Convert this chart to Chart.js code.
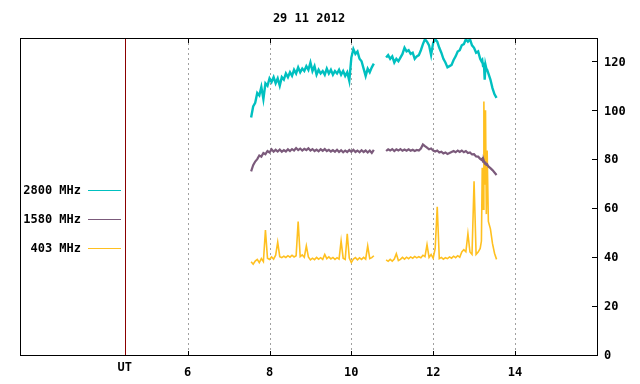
<!DOCTYPE html>
<html>
<head>
<meta charset="utf-8">
<script src="https://cdn.jsdelivr.net/npm/chart.js@4.4.1/dist/chart.umd.min.js"></script>
<style>
  html, body { margin: 0; padding: 0; background: #ffffff; }
  #wrap { width: 640px; height: 384px; }
</style>
</head>
<body>
<div id="wrap"><canvas id="radio" width="640" height="384"></canvas></div>
<script>
/* ── DATA ───────────────────────────────────────────────────────────────── */
const TITLE = "29 11 2012";
const UT_HOUR = 4.46;
const HOUR_TICKS = [6, 8, 10, 12, 14];
const FLUX_TICKS = [0, 20, 40, 60, 80, 100, 120];
const LABELS = ["2800 MHz", "1580 MHz", "403 MHz"];

// shared time base (UT hours); null values mark the data gap
const HOURS = [
  7.55, 7.60, 7.65, 7.70, 7.75, 7.80, 7.85, 7.90, 7.95, 8.00,
  8.05, 8.10, 8.15, 8.20, 8.25, 8.30, 8.35, 8.40, 8.45, 8.50,
  8.55, 8.60, 8.65, 8.70, 8.75, 8.80, 8.85, 8.90, 8.95, 9.00,
  9.05, 9.10, 9.15, 9.20, 9.25, 9.30, 9.35, 9.40, 9.45, 9.50,
  9.55, 9.60, 9.65, 9.70, 9.75, 9.80, 9.85, 9.90, 9.95, 10.00,
  10.05, 10.10, 10.15, 10.20, 10.25, 10.30, 10.35, 10.40, 10.45, 10.50,
  10.55,
  10.70,
  10.85, 10.90, 10.95, 11.00, 11.05, 11.10, 11.15, 11.20, 11.25, 11.30,
  11.35, 11.40, 11.45, 11.50, 11.55, 11.60, 11.65, 11.70, 11.75, 11.80,
  11.85, 11.90, 11.95, 12.00, 12.05, 12.10, 12.15, 12.20, 12.25, 12.30,
  12.35, 12.40, 12.45, 12.50, 12.55, 12.60, 12.65, 12.70, 12.75, 12.80,
  12.85, 12.90, 12.95, 13.00, 13.05, 13.10, 13.15, 13.18, 13.20, 13.22,
  13.24, 13.26, 13.28, 13.30, 13.32, 13.35, 13.40, 13.45, 13.50, 13.55,
];

const F2800 = [
  97.5, 102, 103.5, 107.5, 106.5, 110, 105, 111.5, 110.5, 113.5,
  112, 114, 111.5, 113.5, 110.5, 114, 113, 115.5, 114, 116,
  114.5, 117, 115.5, 118, 116, 117.5, 116.5, 118.5, 117, 120,
  116.5, 118.5, 115, 117, 115.5, 116.5, 115, 117.5, 115.5, 117,
  115, 116.5, 115.5, 117, 115, 116.5, 114.5, 116, 112.5, 122,
  125.5, 123.5, 124.5, 121.5, 120.5, 117.5, 114.5, 117.5, 116, 118,
  119.5,
  null,
  122, 123, 121.5, 122.5, 120, 121.5, 120.5, 122, 123.5, 126,
  124.5, 125, 123.5, 124, 121.5, 122.5, 123, 125, 127.5, 129.5,
  128.5, 127, 123, 128, 129.5, 128.5, 126, 124, 121.5, 120,
  118, 118.5, 119, 121, 122.5, 124.5, 125, 127, 127.5, 129.5,
  128.5, 129.5, 127, 126, 124, 124.5, 121.5, 120.5, 121, 118.5,
  120, 113, 119, 117.5, 117, 115.5, 113, 109.5, 107, 105.5,
];

const F1580 = [
  75.5, 78, 79.5, 80.5, 82, 81.5, 83, 82.5, 83.8, 83.2,
  84.5, 83.5, 84.3, 83.6, 84.4, 83.5, 84.2, 83.6, 84.5, 83.8,
  84.6, 84, 85, 84.2, 84.8, 84, 84.7, 84.2, 84.9, 84,
  84.6, 83.8, 84.4, 83.7, 84.5, 83.9, 84.6, 83.8, 84.3, 83.6,
  84.2, 83.5, 84.3, 83.4, 84.1, 83.3, 84, 83.4, 84.2, 83.5,
  84.3, 83.4, 84, 83.3, 84.1, 83.4, 84, 83.2, 84, 83,
  84.3,
  null,
  83.8, 84.5, 84, 84.6, 83.8, 84.5, 84, 84.6, 83.9, 84.4,
  83.9, 84.5, 83.9, 84.3, 83.8, 84.2, 84, 84.8, 86.5, 85.8,
  85.2, 84.5, 84.8, 84, 83.6, 84, 83.2, 83.5, 82.8, 83.2,
  82.6, 83, 83.4, 83.8, 83.3, 84, 83.4, 84, 83.3, 83.8,
  83, 83.2, 82.4, 82.5, 81.6, 81.5, 80.6, 80.2, 80.6, 79.5,
  79.8, 78.8, 79, 78.2, 78.4, 77.5, 76.8, 76, 75, 74,
];

const F403 = [
  38.5, 37.5, 38.8, 39.5, 38.2, 39.8, 38.6, 51.5, 40, 39.5,
  40.5, 39.6, 41.2, 46.5, 40.6, 40.2, 40.8, 40.3, 41, 40.4,
  41.2, 40.5, 41, 55, 40.6, 41.3, 40.4, 45, 40.5, 39.3,
  40, 39.4, 40.3, 39.6, 40.2, 39.5, 41.5, 39.8, 40.5, 39.7,
  40.3, 39.5, 40.2, 39.6, 47, 40, 39.5, 50, 40, 38.2,
  39.6, 40.2, 39.3, 40.1, 39.5, 40.3, 39.6, 45, 39.8, 40.2,
  41,
  null,
  39.3, 38.7, 39.5, 38.8, 39.6, 41.8, 39, 39.5, 40.3, 39.6,
  40.4, 39.8, 40.5, 40, 40.7, 40.1, 40.6, 40.2, 41.2, 40.6,
  45.5, 40.3, 41.5, 40, 44, 61, 39.8, 40.3, 39.6, 40.2,
  39.8, 40.5, 40, 40.8, 40.2, 41, 40.4, 42.5, 43.5, 42.6,
  50, 42.5, 41.5, 71.4, 41.5, 42.5, 44, 47, 77, 60,
  104, 70, 100.5, 58, 84, 55, 52, 46, 42, 39.5,
];

/* ── STYLE ──────────────────────────────────────────────────────────────── */
const PALETTE = {
  cyan: "#00c0c0",
  purple: "#7b5a7b",
  gold: "#ffc020",
  ut: "#8b0000",
  grid: "#a0a0a0",
  ink: "#000000",
};
const FONT = "bold 12px 'DejaVu Sans Mono', 'Liberation Mono', monospace";

function pts(values) {
  return HOURS.map((h, i) => ({ x: h, y: values[i] }));
}

/* ── FRAME PLUGIN ───────────────────────────────────────────────────────────
   gnuplot-like frame: dotted hour grid, UT marker, inward ticks, title and
   the left-hand legend.
   ─────────────────────────────────────────────────────────────────────── */
const framePlugin = {
  id: "frame",
  beforeDatasetsDraw(chart) {
    const { ctx, chartArea: { top, bottom }, scales: { x } } = chart;
    ctx.save();
    ctx.lineWidth = 1;
    ctx.strokeStyle = PALETTE.grid;
    ctx.setLineDash([2, 3]);
    HOUR_TICKS.forEach((h) => {
      const px = Math.round(x.getPixelForValue(h)) + 0.5;
      ctx.beginPath();
      ctx.moveTo(px, top);
      ctx.lineTo(px, bottom);
      ctx.stroke();
    });
    ctx.setLineDash([]);
    const ux = Math.round(x.getPixelForValue(UT_HOUR)) + 0.5;
    ctx.strokeStyle = PALETTE.ut;
    ctx.beginPath();
    ctx.moveTo(ux, top);
    ctx.lineTo(ux, bottom);
    ctx.stroke();
    ctx.restore();
  },
  afterDraw(chart) {
    const { ctx, chartArea: { left, right, top, bottom }, scales: { x, y } } = chart;
    ctx.save();
    ctx.lineWidth = 1;
    ctx.strokeStyle = PALETTE.ink;
    ctx.strokeRect(left + 0.5, top + 0.5, right - left - 1, bottom - top - 1);

    /* inward ticks */
    ctx.beginPath();
    HOUR_TICKS.forEach((h) => {
      const px = Math.round(x.getPixelForValue(h)) + 0.5;
      ctx.moveTo(px, bottom);
      ctx.lineTo(px, bottom - 5);
      ctx.moveTo(px, top);
      ctx.lineTo(px, top + 5);
    });
    FLUX_TICKS.forEach((v) => {
      const py = Math.round(y.getPixelForValue(v)) - 0.5;
      ctx.moveTo(right, py);
      ctx.lineTo(right - 6, py);
    });
    ctx.stroke();

    /* title + UT label */
    ctx.font = FONT;
    ctx.fillStyle = PALETTE.ink;
    ctx.textAlign = "center";
    ctx.textBaseline = "middle";
    ctx.fillText(TITLE, (left + right) / 2, 19);
    ctx.fillText("UT", x.getPixelForValue(UT_HOUR), 368);

    /* legend */
    chart.data.datasets.forEach((ds, i) => {
      const ly = 190.5 + i * 29;
      ctx.textAlign = "right";
      ctx.fillStyle = PALETTE.ink;
      ctx.fillText(ds.label, 81, ly);
      ctx.strokeStyle = ds.borderColor;
      ctx.lineWidth = 1;
      ctx.beginPath();
      ctx.moveTo(88, ly);
      ctx.lineTo(121, ly);
      ctx.stroke();
    });
    ctx.restore();
  },
};

/* ── CHART ──────────────────────────────────────────────────────────────── */
const lineStyle = { pointRadius: 0, tension: 0, spanGaps: false, fill: false };

new Chart(document.getElementById("radio"), {
  type: "line",
  data: {
    datasets: [
      { label: LABELS[0], data: pts(F2800), borderColor: PALETTE.cyan, borderWidth: 2.4, order: 1, ...lineStyle },
      { label: LABELS[1], data: pts(F1580), borderColor: PALETTE.purple, borderWidth: 2.2, order: 2, ...lineStyle },
      { label: LABELS[2], data: pts(F403), borderColor: PALETTE.gold, borderWidth: 1.6, order: 3, ...lineStyle },
    ],
  },
  options: {
    responsive: false,
    animation: false,
    devicePixelRatio: 1,
    layout: { padding: { left: 20, top: 38, right: 0, bottom: 0 } },
    plugins: { legend: { display: false }, tooltip: { enabled: false }, title: { display: false } },
    scales: {
      x: {
        type: "linear",
        min: 1.9,
        max: 16.03,
        afterBuildTicks(scale) {
          scale.ticks = HOUR_TICKS.map((v) => ({ value: v }));
        },
        afterFit(scale) { scale.height = 28; },
        ticks: { color: PALETTE.ink, font: { family: "'DejaVu Sans Mono'", size: 12, weight: "bold" }, padding: 10, maxRotation: 0 },
        grid: { display: false, drawTicks: false },
        border: { display: false },
      },
      y: {
        position: "right",
        min: 0,
        max: 130,
        afterBuildTicks(scale) {
          scale.ticks = FLUX_TICKS.map((v) => ({ value: v }));
        },
        afterFit(scale) { scale.width = 42; },
        ticks: { color: PALETTE.ink, font: { family: "'DejaVu Sans Mono'", size: 12, weight: "bold" }, padding: 6 },
        grid: { display: false, drawTicks: false },
        border: { display: false },
      },
    },
  },
  plugins: [framePlugin],
});
</script>
</body>
</html>
